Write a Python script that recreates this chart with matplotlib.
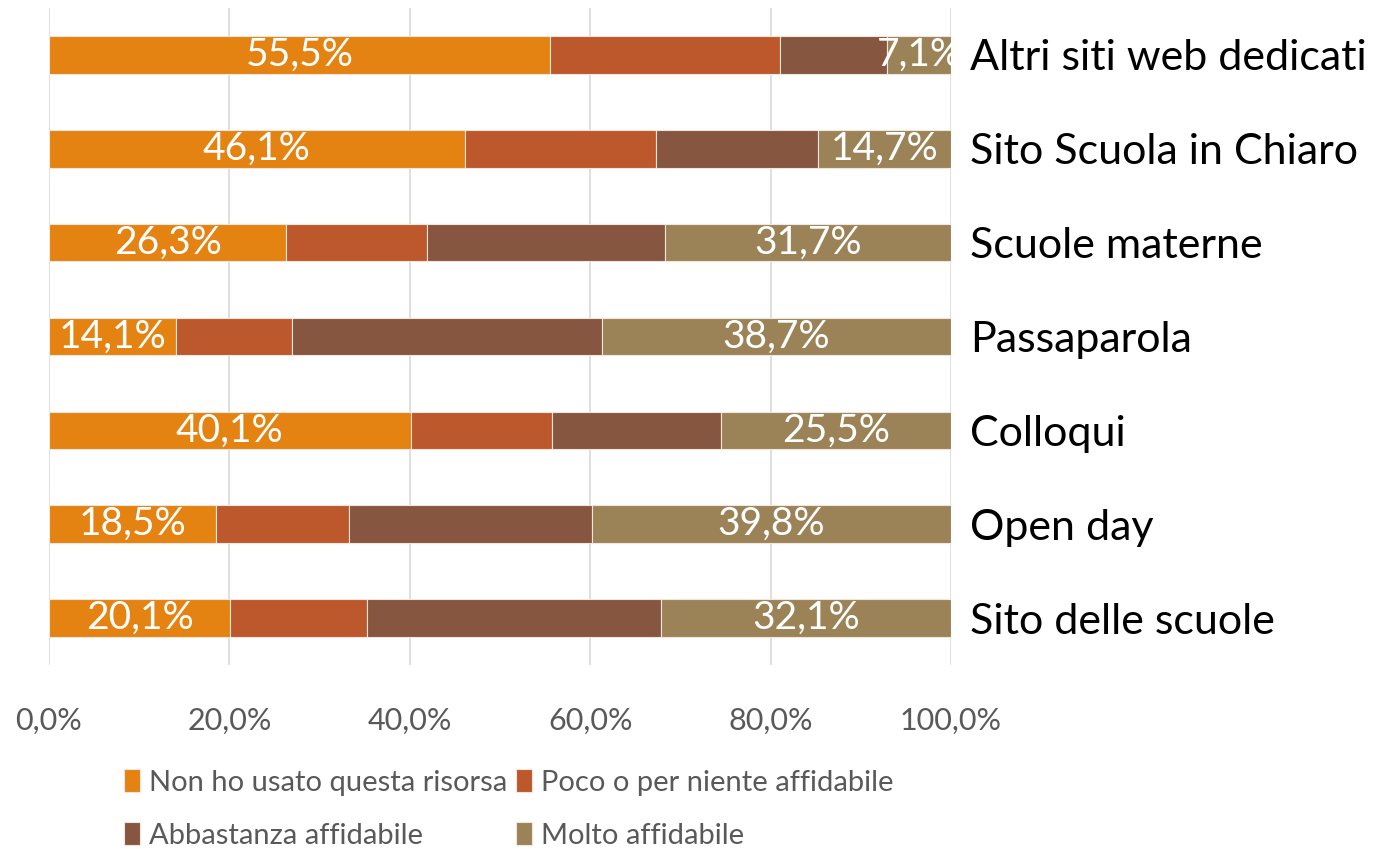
import matplotlib
matplotlib.use("Agg")
import matplotlib.pyplot as plt
import numpy as np

categories = ["Altri siti web dedicati", "Sito Scuola in Chiaro", "Scuole materne",
              "Passaparola", "Colloqui", "Open day", "Sito delle scuole"]
series_names = ["Non ho usato questa risorsa", "Poco o per niente affidabile",
                "Abbastanza affidabile", "Molto affidabile"]
non_usato = [55.5, 46.1, 26.3, 14.1, 40.1, 18.5, 20.1]
poco = [25.5, 21.2, 15.6, 12.8, 15.7, 14.8, 15.2]
abbastanza = [11.9, 18.0, 26.4, 34.4, 18.7, 26.9, 32.6]
molto = [7.1, 14.7, 31.7, 38.7, 25.5, 39.8, 32.1]
xticks = [0, 20, 40, 60, 80, 100]
xtick_labels = ["0,0%", "20,0%", "40,0%", "60,0%", "80,0%", "100,0%"]

colors = ["#E48312", "#BD582C", "#865640", "#9B8357"]
labeled = [True, False, False, True]

plt.rcParams['font.family'] = ['Lato', 'DejaVu Sans']

fig = plt.figure(figsize=(13.86, 8.49), dpi=100)
ax = fig.add_axes([49/1386, 1-665/849, (951-49)/1386, (665-8)/849])

y = np.arange(len(categories))
data = [non_usato, poco, abbastanza, molto]
left = np.zeros(len(categories))
handles = []
for vals, col, name, lab in zip(data, colors, series_names, labeled):
    vals = np.array(vals)
    bars = ax.barh(y, vals, left=left, height=0.4, color=col, edgecolor="#F2E6DC",
                   linewidth=0.8, label=name, zorder=3)
    handles.append(bars)
    if lab:
        for yi, l, v in zip(y, left, vals):
            ax.text(l + v/2, yi, f"{v:.1f}%".replace(".", ","), ha="center", va="center",
                    color="white", fontsize=28, zorder=4)
    left = left + vals

ax.set_xlim(0, 100)
ax.set_ylim(len(categories)-0.5, -0.5)
ax.set_xticks(xticks)
ax.set_xticklabels(xtick_labels, fontsize=22, color="#595959")
ax.tick_params(axis="x", length=0, pad=30)
ax.grid(axis="x", color="#D9D9D9", linewidth=1.2, zorder=0)
ax.yaxis.tick_right()
ax.set_yticks(y)
ax.set_yticklabels(categories, fontsize=31, color="black")
ax.tick_params(axis="y", length=0, pad=14)
for s in ax.spines.values():
    s.set_visible(False)

order = [0, 2, 1, 3]
leg = fig.legend(handles=[handles[i] for i in order], labels=[series_names[i] for i in order],
                 loc="upper left", bbox_to_anchor=(98/1386, 1-743/849), ncol=2, frameon=False,
                 fontsize=21, handlelength=0.55, handleheight=0.8, handletextpad=0.3,
                 columnspacing=0.3, labelspacing=0.92, labelcolor="#595959")

fig.savefig("out.png", dpi=100)
